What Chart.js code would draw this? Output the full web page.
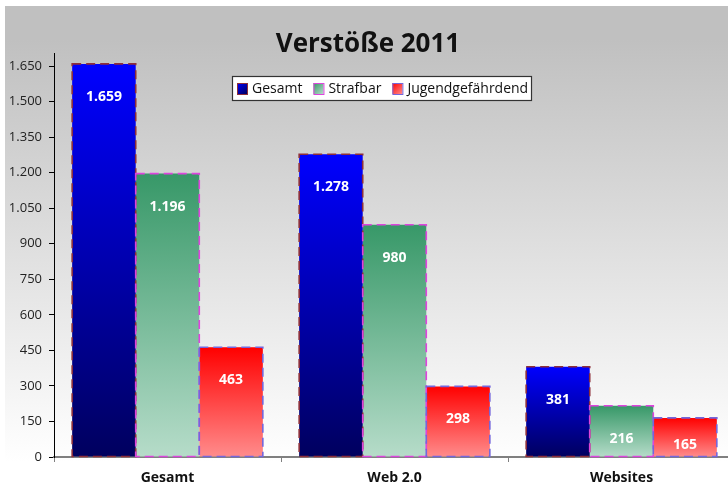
<!DOCTYPE html>
<html>
<head>
<meta charset="utf-8">
<script src="https://cdn.jsdelivr.net/npm/chart.js@4.4.1/dist/chart.umd.min.js"></script>
<style>
  html, body { margin: 0; padding: 0; overflow: hidden; background: #fff; }
  #wrap { width: 728px; height: 489px; overflow: hidden; }
</style>
</head>
<body>
<div id="wrap"><canvas id="verstoesse" width="736" height="489"></canvas></div>
<script>
// data ---------------------------
const categories = ["Gesamt", "Web 2.0", "Websites"];
const seriesNames = ["Gesamt", "Strafbar", "Jugendgefährdend"];
const gesamt = [1659, 1278, 381];
const strafbar = [1196, 980, 216];
const jugendgefaehrdend = [463, 298, 165];
const yTicks = [0, 150, 300, 450, 600, 750, 900, 1050, 1200, 1350, 1500, 1650];

// styles per series: gradient top, gradient bottom, dashed border
const looks = [
  { top: "#0000ff", bottom: "#00005e", border: "#8e2f3a" },
  { top: "#379868", bottom: "#b6dcc9", border: "#dd44dd" },
  { top: "#ff0000", bottom: "#ff8c8c", border: "#7466dc" },
];

const fmt = (v) => String(v).replace(/\B(?=(\d{3})+(?!\d))/g, ".");

function barFill(i) {
  return function (ctx) {
    const chart = ctx.chart;
    const y = chart.scales && chart.scales.y;
    if (ctx.type !== "data" || !y) return looks[i].top;
    const top = y.getPixelForValue(ctx.raw);
    const base = y.getPixelForValue(0);
    if (!isFinite(top) || !isFinite(base) || top === base) return looks[i].top;
    const g = chart.ctx.createLinearGradient(0, top, 0, base);
    g.addColorStop(0, looks[i].top);
    g.addColorStop(1, looks[i].bottom);
    return g;
  };
}

// background + title
const backdrop = {
  id: "backdrop",
  beforeDraw(chart) {
    const c = chart.ctx;
    c.save();
    c.fillStyle = "#ffffff";
    c.fillRect(0, 0, chart.width, chart.height);
    const g = c.createLinearGradient(0, 40, 0, 462);
    g.addColorStop(0, "#c0c0c0");
    g.addColorStop(1, "#ffffff");
    c.fillStyle = g;
    c.fillRect(5, 6, chart.width - 5, chart.height - 6);
    c.fillStyle = "#111";
    c.font = "bold 26px 'Open Sans'";
    c.textAlign = "center";
    c.textBaseline = "alphabetic";
    c.fillText("Verstöße 2011", 368, 52);
    c.restore();
  },
};

// dashed outlines and value labels
const barDecor = {
  id: "barDecor",
  afterDatasetsDraw(chart) {
    const c = chart.ctx;
    c.save();
    chart.data.datasets.forEach((ds, i) => {
      const meta = chart.getDatasetMeta(i);
      meta.data.forEach((bar, j) => {
        const left = bar.x - bar.width / 2;
        const h = bar.base - bar.y;
        c.setLineDash([9, 5]);
        c.lineWidth = 1.6;
        c.strokeStyle = looks[i].border;
        c.strokeRect(left, bar.y, bar.width, h);
        c.setLineDash([]);
        c.fillStyle = "#fff";
        c.font = "bold 14px 'Open Sans'";
        c.textAlign = "center";
        c.textBaseline = "middle";
        c.fillText(fmt(ds.data[j]), bar.x, bar.y + Math.min(33, h / 2 + 8));
      });
    });
    c.restore();
  },
};

// floating legend box
const boxLegend = {
  id: "boxLegend",
  afterDraw(chart) {
    const c = chart.ctx;
    c.save();
    c.fillStyle = "#fff";
    c.fillRect(232, 76, 299, 24);
    c.strokeStyle = "#333";
    c.lineWidth = 1.2;
    c.strokeRect(232.5, 76.5, 299, 24);
    c.font = "14px 'Open Sans'";
    c.textBaseline = "middle";
    c.textAlign = "left";
    let x = 237;
    chart.data.datasets.forEach((ds, i) => {
      const g = c.createLinearGradient(x, 83, x + 10, 94);
      g.addColorStop(0, looks[i].top);
      g.addColorStop(1, looks[i].bottom);
      c.fillStyle = g;
      c.fillRect(x, 83, 10, 11);
      c.strokeStyle = looks[i].border;
      c.lineWidth = 1;
      c.strokeRect(x + 0.5, 83.5, 10, 11);
      c.fillStyle = "#111";
      c.fillText(ds.label, x + 15, 89);
      x += 15 + c.measureText(ds.label).width + 11;
    });
    c.restore();
  },
};

function draw() {
  Chart.defaults.font.family = "'Open Sans', sans-serif";
  const data = {
    labels: categories,
    datasets: [gesamt, strafbar, jugendgefaehrdend].map((vals, i) => ({
      label: seriesNames[i],
      data: vals,
      backgroundColor: barFill(i),
      borderWidth: 0,
      barPercentage: 1,
      categoryPercentage: 0.84,
    })),
  };

  const config = {
    type: "bar",
    data: data,
    options: {
      responsive: false,
      animation: false,
      devicePixelRatio: 1,
      layout: { padding: { top: 53, left: 0, right: 1, bottom: 0 } },
      plugins: { legend: { display: false }, title: { display: false }, tooltip: { enabled: false } },
      scales: {
        x: {
          afterFit: (s) => { s.height = 32; },
          grid: { drawOnChartArea: false, tickLength: 5, color: "#808080", offset: true },
          border: { color: "#808080", width: 2 },
          ticks: { color: "#111", padding: 8, font: { size: 14, weight: "bold" } },
        },
        y: {
          min: 0,
          max: 1705,
          afterFit: (s) => { s.width = 54; },
          afterBuildTicks: (s) => { s.ticks = yTicks.map((v) => ({ value: v })); },
          grid: { drawOnChartArea: false, tickLength: 5, color: "#000" },
          border: { color: "#000", width: 1 },
          ticks: { color: "#222", padding: 7, font: { size: 13 }, callback: (v) => fmt(v) },
        },
      },
    },
    plugins: [backdrop, barDecor, boxLegend],
  };

  new Chart(document.getElementById("verstoesse"), config);
}

Promise.all([
  document.fonts.load("14px 'Open Sans'"),
  document.fonts.load("bold 14px 'Open Sans'"),
]).then(draw, draw);
</script>
</body>
</html>
